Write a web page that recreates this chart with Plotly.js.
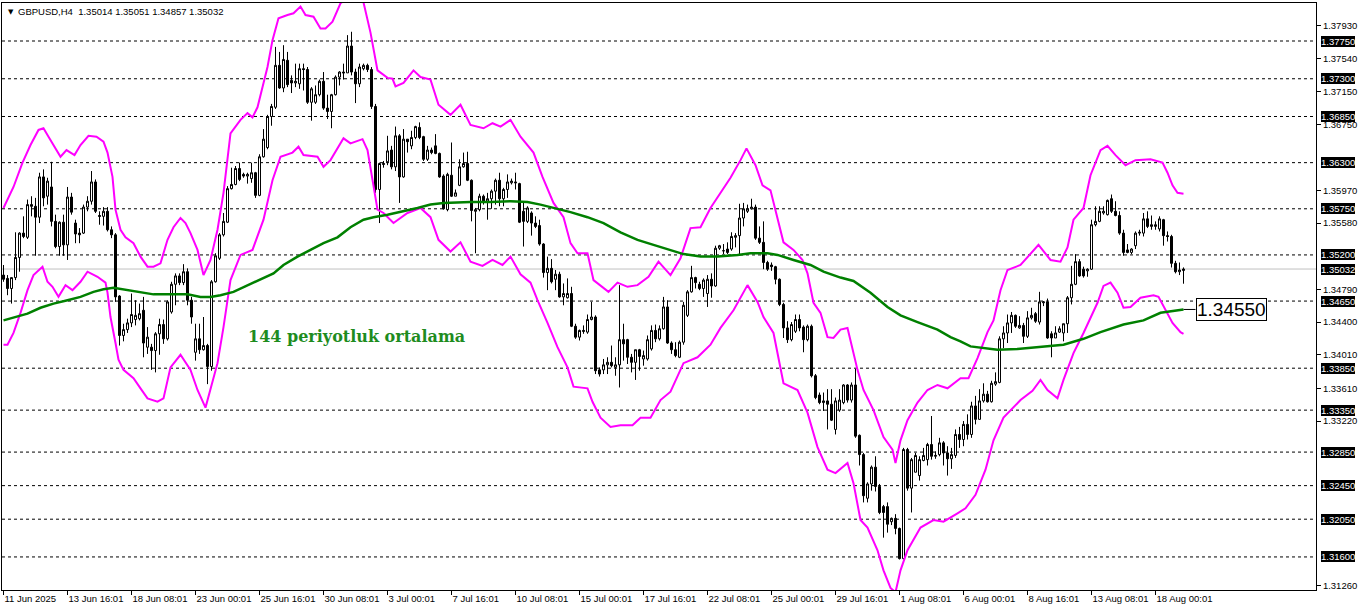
<!DOCTYPE html>
<html><head><meta charset="utf-8">
<script src="https://cdn.plot.ly/plotly-3.0.1.min.js"></script>
<style>html,body{margin:0;padding:0;background:#fff}#chart{width:1362px;height:611px}</style>
</head><body><div id="chart"></div>
<script>
const headerText = "GBPUSD,H4\u00a0\u00a01.35014 1.35051 1.34857 1.35032";
const maCaption = "144 periyotluk ortalama";

const open = [
1.3496,1.3492,1.3480,1.3493,1.3517,1.3546,1.3541,1.3580,1.3578,1.3565,
1.3613,1.3590,1.3601,1.3560,1.3530,1.3559,1.3532,1.3589,1.3558,1.3546,
1.3546,1.3577,1.3584,1.3607,1.3567,1.3566,1.3572,1.3550,1.3544,1.3471,
1.3424,1.3431,1.3439,1.3443,1.3444,1.3454,1.3410,1.3410,1.3406,1.3426,
1.3437,1.3420,1.3452,1.3485,1.3495,1.3487,1.3500,1.3466,1.3404,1.3420,
1.3407,1.3412,1.3387,1.3488,1.3516,1.3544,1.3559,1.3599,1.3604,1.3623,
1.3616,1.3614,1.3611,1.3618,1.3591,1.3637,1.3648,1.3685,1.3696,1.3746,
1.3719,1.3752,1.3728,1.3725,1.3724,1.3742,1.3741,1.3702,1.3702,1.3711,
1.3727,1.3695,1.3691,1.3711,1.3732,1.3738,1.3737,1.3769,1.3738,1.3724,
1.3742,1.3746,1.3741,1.3697,1.3598,1.3629,1.3631,1.3645,1.3625,1.3662,
1.3613,1.3658,1.3650,1.3660,1.3672,1.3661,1.3634,1.3645,1.3650,1.3641,
1.3614,1.3574,1.3615,1.3590,1.3603,1.3625,1.3629,1.3609,1.3572,1.3574,
1.3590,1.3584,1.3587,1.3596,1.3609,1.3587,1.3598,1.3606,1.3607,1.3605,
1.3572,1.3560,1.3570,1.3558,1.3555,1.3533,1.3499,1.3504,1.3491,1.3497,
1.3470,1.3469,1.3474,1.3435,1.3422,1.3430,1.3428,1.3443,1.3446,1.3383,
1.3383,1.3389,1.3392,1.3386,1.3389,1.3419,1.3419,1.3398,1.3392,1.3407,
1.3396,1.3396,1.3408,1.3430,1.3420,1.3432,1.3458,1.3415,1.3407,1.3398,
1.3416,1.3448,1.3476,1.3493,1.3485,1.3480,1.3474,1.3491,1.3483,1.3528,
1.3525,1.3527,1.3527,1.3541,1.3543,1.3564,1.3572,1.3575,1.3577,1.3540,
1.3535,1.3511,1.3508,1.3506,1.3491,1.3461,1.3433,1.3419,1.3429,1.3443,
1.3434,1.3419,1.3435,1.3376,1.3353,1.3344,1.3346,1.3342,1.3312,1.3335,
1.3344,1.3365,1.3347,1.3365,1.3305,1.3282,1.3230,1.3247,1.3267,1.3244,
1.3220,1.3220,1.3202,1.3206,1.3194,1.3158,1.3288,1.3242,1.3261,1.3257,
1.3275,1.3276,1.3294,1.3280,1.3282,1.3296,1.3284,1.3277,1.3281,1.3306,
1.3300,1.3318,1.3306,1.3340,1.3324,1.3346,1.3354,1.3345,1.3366,1.3368,
1.3420,1.3427,1.3439,1.3448,1.3433,1.3436,1.3423,1.3445,1.3450,1.3440,
1.3463,1.3464,1.3426,1.3421,1.3428,1.3427,1.3438,1.3469,1.3485,1.3512,
1.3503,1.3501,1.3503,1.3556,1.3560,1.3570,1.3568,1.3587,1.3572,1.3567,
1.3546,1.3526,1.3523,1.3531,1.3546,1.3546,1.3563,1.3554,1.3554,1.3551,
1.3562,1.3543,1.3542,1.3510,1.3500,1.35014];

const high = [
1.3508,1.3496,1.3493,1.3547,1.3547,1.3566,1.3586,1.3590,1.3588,1.3618,
1.3622,1.3612,1.3631,1.3568,1.3560,1.3568,1.3601,1.3594,1.3562,1.3552,
1.3580,1.3590,1.3620,1.3610,1.3572,1.3577,1.3577,1.3554,1.3546,1.3472,
1.3438,1.3444,1.3474,1.3466,1.3462,1.3470,1.3434,1.3414,1.3428,1.3444,
1.3443,1.3466,1.3488,1.3498,1.3498,1.3509,1.3504,1.3470,1.3438,1.3438,
1.3446,1.3414,1.3490,1.3522,1.3546,1.3570,1.3602,1.3624,1.3626,1.3630,
1.3618,1.3618,1.3630,1.3619,1.3640,1.3670,1.3687,1.3700,1.3768,1.3762,
1.3770,1.3762,1.3734,1.3748,1.3748,1.3748,1.3744,1.3720,1.3722,1.3729,
1.3738,1.3711,1.3712,1.3734,1.3739,1.3748,1.3782,1.3786,1.3742,1.3748,
1.3748,1.3748,1.3744,1.3700,1.3630,1.3632,1.3662,1.3650,1.3673,1.3664,
1.3670,1.3658,1.3668,1.3674,1.3678,1.3662,1.3650,1.3648,1.3664,1.3642,
1.3616,1.3618,1.3654,1.3598,1.3634,1.3642,1.3643,1.3610,1.3576,1.3593,
1.3592,1.3594,1.3598,1.3611,1.3618,1.3600,1.3616,1.3611,1.3618,1.3606,
1.3582,1.3578,1.3572,1.3566,1.3562,1.3534,1.3518,1.3515,1.3502,1.3500,
1.3486,1.3492,1.3482,1.3438,1.3431,1.3436,1.3449,1.3464,1.3448,1.3386,
1.3396,1.3398,1.3412,1.3398,1.3484,1.3438,1.3420,1.3402,1.3407,1.3408,
1.3406,1.3424,1.3436,1.3437,1.3436,1.3470,1.3466,1.3417,1.3416,1.3418,
1.3464,1.3478,1.3507,1.3494,1.3488,1.3492,1.3496,1.3498,1.3531,1.3532,
1.3533,1.3535,1.3547,1.3546,1.3581,1.3582,1.3580,1.3587,1.3580,1.3554,
1.3560,1.3513,1.3511,1.3507,1.3492,1.3463,1.3441,1.3440,1.3449,1.3449,
1.3436,1.3437,1.3437,1.3378,1.3356,1.3356,1.3360,1.3360,1.3350,1.3360,
1.3366,1.3366,1.3368,1.3384,1.3306,1.3284,1.3249,1.3269,1.3280,1.3247,
1.3222,1.3225,1.3207,1.3211,1.3195,1.3290,1.3290,1.3278,1.3284,1.3280,
1.3290,1.3296,1.3328,1.3286,1.3302,1.3298,1.3292,1.3290,1.3312,1.3315,
1.3322,1.3330,1.3345,1.3352,1.3360,1.3367,1.3358,1.3370,1.3380,1.3423,
1.3435,1.3449,1.3452,1.3449,1.3447,1.3439,1.3453,1.3457,1.3452,1.3476,
1.3465,1.3468,1.3429,1.3435,1.3435,1.3438,1.3471,1.3507,1.3521,1.3515,
1.3506,1.3504,1.3562,1.3578,1.3578,1.3578,1.3586,1.3592,1.3584,1.3572,
1.3550,1.3533,1.3528,1.3548,1.3550,1.3570,1.3572,1.3567,1.3560,1.3566,
1.3563,1.3548,1.3544,1.3513,1.3511,1.35051];

const low = [
1.3488,1.3472,1.3462,1.3490,1.3500,1.3540,1.3539,1.3566,1.3519,1.3558,
1.3578,1.3580,1.3554,1.3528,1.3519,1.3519,1.3514,1.3568,1.3534,1.3534,
1.3545,1.3572,1.3580,1.3570,1.3556,1.3555,1.3548,1.3540,1.3464,1.3412,
1.3417,1.3427,1.3434,1.3436,1.3442,1.3398,1.3402,1.3383,1.3380,1.3401,
1.3414,1.3418,1.3450,1.3460,1.3484,1.3484,1.3460,1.3438,1.3394,1.3402,
1.3406,1.3366,1.3382,1.3487,1.3514,1.3542,1.3558,1.3598,1.3603,1.3608,
1.3612,1.3605,1.3606,1.3588,1.3590,1.3636,1.3646,1.3674,1.3694,1.3718,
1.3714,1.3720,1.3713,1.3720,1.3718,1.3716,1.3700,1.3680,1.3700,1.3709,
1.3693,1.3682,1.3671,1.3710,1.3722,1.3729,1.3737,1.3734,1.3701,1.3720,
1.3740,1.3738,1.3694,1.3594,1.3558,1.3624,1.3627,1.3622,1.3620,1.3582,
1.3612,1.3642,1.3646,1.3658,1.3658,1.3632,1.3632,1.3640,1.3640,1.3612,
1.3574,1.3572,1.3589,1.3590,1.3602,1.3624,1.3608,1.3560,1.3522,1.3572,
1.3580,1.3562,1.3575,1.3580,1.3578,1.3578,1.3588,1.3604,1.3598,1.3558,
1.3530,1.3558,1.3543,1.3552,1.3531,1.3493,1.3478,1.3486,1.3478,1.3469,
1.3460,1.3468,1.3434,1.3420,1.3418,1.3426,1.3426,1.3442,1.3378,1.3375,
1.3378,1.3378,1.3386,1.3376,1.3362,1.3394,1.3390,1.3380,1.3371,1.3382,
1.3388,1.3394,1.3406,1.3416,1.3418,1.3431,1.3414,1.3402,1.3398,1.3397,
1.3413,1.3446,1.3475,1.3480,1.3478,1.3470,1.3458,1.3469,1.3482,1.3526,
1.3521,1.3521,1.3525,1.3529,1.3521,1.3554,1.3570,1.3574,1.3538,1.3533,
1.3503,1.3501,1.3501,1.3485,1.3459,1.3421,1.3415,1.3417,1.3427,1.3429,
1.3404,1.3417,1.3374,1.3348,1.3342,1.3334,1.3312,1.3322,1.3306,1.3333,
1.3342,1.3344,1.3344,1.3302,1.3269,1.3225,1.3225,1.3239,1.3238,1.3211,
1.3183,1.3189,1.3198,1.3187,1.3157,1.3157,1.3239,1.3213,1.3261,1.3251,
1.3274,1.3269,1.3276,1.3277,1.3280,1.3269,1.3257,1.3265,1.3278,1.3290,
1.3292,1.3300,1.3302,1.3318,1.3324,1.3344,1.3344,1.3344,1.3364,1.3367,
1.3409,1.3415,1.3427,1.3433,1.3432,1.3415,1.3421,1.3443,1.3439,1.3437,
1.3459,1.3420,1.3398,1.3421,1.3427,1.3417,1.3427,1.3461,1.3484,1.3494,
1.3493,1.3494,1.3502,1.3554,1.3559,1.3568,1.3567,1.3570,1.3566,1.3544,
1.3519,1.3522,1.3521,1.3527,1.3543,1.3542,1.3552,1.3550,1.3550,1.3548,
1.3531,1.3536,1.3505,1.3498,1.3496,1.34857];

const close = [
1.3491,1.3480,1.3493,1.3517,1.3546,1.3542,1.3580,1.3578,1.3565,1.3613,
1.3588,1.3608,1.3560,1.3530,1.3559,1.3532,1.3589,1.3571,1.3545,1.3544,
1.3577,1.3584,1.3607,1.3572,1.3566,1.3572,1.3550,1.3544,1.3470,1.3424,
1.3431,1.3439,1.3449,1.3448,1.3450,1.3415,1.3422,1.3406,1.3426,1.3437,
1.3420,1.3464,1.3485,1.3495,1.3487,1.3500,1.3466,1.3446,1.3420,1.3407,
1.3412,1.3387,1.3488,1.3519,1.3544,1.3560,1.3599,1.3604,1.3623,1.3610,
1.3614,1.3616,1.3618,1.3591,1.3637,1.3658,1.3685,1.3697,1.3746,1.3719,
1.3753,1.3723,1.3725,1.3727,1.3742,1.3741,1.3702,1.3718,1.3711,1.3727,
1.3695,1.3691,1.3711,1.3732,1.3738,1.3737,1.3769,1.3738,1.3724,1.3744,
1.3746,1.3741,1.3697,1.3598,1.3629,1.3628,1.3644,1.3625,1.3662,1.3613,
1.3658,1.3655,1.3660,1.3673,1.3660,1.3634,1.3645,1.3642,1.3641,1.3613,
1.3575,1.3616,1.3590,1.3594,1.3625,1.3629,1.3609,1.3573,1.3574,1.3590,
1.3583,1.3587,1.3596,1.3609,1.3587,1.3598,1.3607,1.3608,1.3606,1.3559,
1.3560,1.3576,1.3558,1.3554,1.3533,1.3499,1.3504,1.3488,1.3497,1.3470,
1.3474,1.3474,1.3435,1.3422,1.3430,1.3429,1.3443,1.3446,1.3382,1.3378,
1.3389,1.3392,1.3388,1.3389,1.3419,1.3414,1.3398,1.3392,1.3407,1.3399,
1.3400,1.3419,1.3430,1.3420,1.3432,1.3458,1.3415,1.3407,1.3400,1.3416,
1.3460,1.3476,1.3493,1.3487,1.3480,1.3490,1.3491,1.3483,1.3528,1.3531,
1.3525,1.3523,1.3542,1.3543,1.3564,1.3575,1.3575,1.3577,1.3540,1.3535,
1.3511,1.3503,1.3506,1.3491,1.3461,1.3433,1.3419,1.3437,1.3443,1.3433,
1.3419,1.3435,1.3376,1.3350,1.3344,1.3346,1.3342,1.3323,1.3346,1.3347,
1.3365,1.3347,1.3365,1.3304,1.3282,1.3233,1.3247,1.3267,1.3244,1.3213,
1.3213,1.3199,1.3206,1.3194,1.3158,1.3288,1.3242,1.3276,1.3281,1.3276,
1.3281,1.3294,1.3280,1.3281,1.3296,1.3284,1.3277,1.3282,1.3306,1.3300,
1.3318,1.3306,1.3340,1.3324,1.3346,1.3354,1.3345,1.3367,1.3369,1.3420,
1.3427,1.3439,1.3448,1.3435,1.3436,1.3423,1.3445,1.3448,1.3441,1.3464,
1.3464,1.3421,1.3421,1.3427,1.3432,1.3438,1.3469,1.3485,1.3512,1.3495,
1.3495,1.3503,1.3556,1.3560,1.3572,1.3572,1.3585,1.3572,1.3567,1.3546,
1.3523,1.3523,1.3527,1.3546,1.3547,1.3563,1.3554,1.3556,1.3556,1.3563,
1.3543,1.3542,1.3510,1.3500,1.3502,1.35032];

// Upper / lower band and 144-period average (x = bar number)
const upperIdx = [0,2.5,4.75,6.75,8.75,10,11.25,13.25,14.25,15.75,17.75,19.25,21.25,23.25,25,26,27.25,28,29.25,30.5,32.5,34.25,36,37.5,39.25,41,42.5,44.25,45.5,46.75,48.5,50,51.75,53.5,55,56.75,59.25,61,62.25,63.5,66,67.25,68.75,71,72.5,74.25,75.5,77.5,79.25,80.5,82.25,84.25,87,89,90,91.75,93.5,96,97.25,98,100,102.5,104.25,106.75,108.75,111.75,114.25,116.75,120,122.25,124.25,126.75,129.25,132.5,134.75,137.5,140,141.75,143.5,146,147.5,151.25,153.5,156,158.5,161.25,163.75,166.75,169.25,171.75,174.25,176.75,179.25,181.75,184.25,185.75,188,189.75,191.75,193.5,195,197.5,199.75,201,202.5,204.25,206,207.5,209.25,211,212.5,213.5,215,217.5,220,222.25,223,224.25,226,228.5,231,233.5,236,239.25,241.25,243.5,246,247.5,249.25,251,254.25,258.75,261.75,264.25,266,267.5,270,271.75,274.25,276,278,280.5,283,286.75,289.75,291,292.25,293.5,295];
const upperVal = [1.3576,1.3601,1.3630,1.3651,1.3669,1.3671,1.3661,1.3645,1.3637,1.3645,1.3639,1.3651,1.3662,1.3661,1.3655,1.3642,1.3613,1.3574,1.3550,1.3541,1.3534,1.3518,1.3506,1.3506,1.3510,1.3538,1.3553,1.3564,1.3558,1.3546,1.3526,1.3496,1.3514,1.3550,1.3594,1.3665,1.3681,1.3689,1.3684,1.3696,1.3744,1.3776,1.3802,1.3806,1.3808,1.3816,1.3806,1.3804,1.3790,1.3790,1.3798,1.3820,1.3830,1.3828,1.3821,1.3785,1.3740,1.3731,1.3730,1.3721,1.3725,1.3740,1.3732,1.3729,1.3699,1.3687,1.3699,1.3675,1.3671,1.3677,1.3673,1.3681,1.3661,1.3642,1.3613,1.3582,1.3565,1.3534,1.3522,1.3522,1.3490,1.3476,1.3487,1.3482,1.3484,1.3494,1.3512,1.3496,1.3516,1.3552,1.3553,1.3576,1.3594,1.3612,1.3633,1.3647,1.3627,1.3603,1.3597,1.3562,1.3535,1.3526,1.3514,1.3498,1.3463,1.3451,1.3422,1.3421,1.3431,1.3433,1.3403,1.3383,1.3359,1.3335,1.3303,1.3288,1.3272,1.3299,1.3323,1.3344,1.3359,1.3365,1.3361,1.3373,1.3373,1.3397,1.3428,1.3442,1.3478,1.3502,1.3508,1.3532,1.3514,1.3512,1.3529,1.3562,1.3576,1.3615,1.3645,1.3650,1.3639,1.3627,1.3633,1.3634,1.3630,1.3618,1.3603,1.3594,1.3593];

const lowerIdx = [0,1,2.5,4.25,6,7.5,9.75,11,12.25,13.75,15.5,17.25,19.25,21,23.5,25.5,26,26.75,28,28.75,30,32.5,34.25,36,38.5,40,41.75,44.25,46.75,48.5,50.5,51.75,53.5,55,56.75,59.25,62.25,65,67.25,69.25,72.25,73.75,75,78.5,80,81.75,83.75,85,86.75,89.75,91,91.75,93.5,95,97.5,101,104.25,106.75,108.75,111.75,114.25,116.75,119.75,122.25,124.75,126.75,129.25,131.75,133.5,136,138.5,141,142.5,146,147.25,149.25,151.75,154.25,157.25,159.25,161.75,164.25,166.75,170,173.5,176.75,179.25,182.5,186,188.5,190,192.5,195,198.5,201,203.5,206,208,211,212.5,214.25,216,218.5,220,221.75,223,224.25,226,229.25,232.5,235,238.5,240.5,243,245.5,247.5,250,254.25,257.25,259.25,261,263.5,265,267.5,270,273.5,275,276.75,278.5,280,281.75,284.25,287.5,288.75,290.5,292.25,294.25,295];
const lowerVal = [1.3413,1.3413,1.3427,1.3451,1.3478,1.3496,1.3506,1.3488,1.3482,1.3470,1.3484,1.3478,1.3488,1.3500,1.3494,1.3487,1.3475,1.3446,1.3415,1.3395,1.3383,1.3373,1.3361,1.3349,1.3345,1.3349,1.3386,1.3401,1.3383,1.3359,1.3338,1.3359,1.3391,1.3434,1.3490,1.3520,1.3526,1.3562,1.3609,1.3637,1.3642,1.3649,1.3639,1.3637,1.3625,1.3633,1.3649,1.3659,1.3653,1.3658,1.3645,1.3625,1.3574,1.3570,1.3558,1.3570,1.3576,1.3565,1.3538,1.3524,1.3535,1.3512,1.3507,1.3514,1.3508,1.3518,1.3497,1.3487,1.3466,1.3439,1.3410,1.3386,1.3363,1.3361,1.3345,1.3326,1.3315,1.3317,1.3317,1.3326,1.3326,1.3347,1.3357,1.3391,1.3398,1.3413,1.3433,1.3454,1.3484,1.3464,1.3446,1.3427,1.3367,1.3359,1.3332,1.3291,1.3264,1.3260,1.3272,1.3248,1.3204,1.3195,1.3168,1.3144,1.3123,1.3118,1.3144,1.3168,1.3195,1.3204,1.3202,1.3212,1.3218,1.3234,1.3264,1.3299,1.3326,1.3347,1.3358,1.3371,1.3359,1.3349,1.3371,1.3403,1.3427,1.3463,1.3483,1.3487,1.3475,1.3457,1.3458,1.3469,1.3472,1.3470,1.3454,1.3439,1.3428,1.3426];

const maIdx = [0,2.5,6,9.25,12.5,16,19.25,22.5,25,27.5,31,34.25,37.5,46,49.25,51.75,54.25,57.5,61,65,67.5,70,73.5,76.75,80,83.5,86.75,90,92.5,96,100,103.5,106.75,110,116.75,121.75,126.75,131,134.25,138.5,141.75,146,150,154.25,158.5,162.5,166.75,170,174.25,178.5,183.5,186.75,191,193.5,197.5,201.75,205,209.25,212.5,216.75,221,224.25,228.5,233.5,236.75,239.25,241.75,248.5,253.5,258.5,265,270,274.25,280,285,289.25,295];
const maVal = [1.3442,1.3445,1.3450,1.3457,1.3462,1.3466,1.3470,1.3476,1.3479,1.3481,1.3478,1.3475,1.3473,1.3473,1.3470,1.3470,1.3472,1.3476,1.3484,1.3493,1.3498,1.3508,1.3518,1.3526,1.3534,1.3541,1.3553,1.3562,1.3565,1.3568,1.3572,1.3576,1.3580,1.3582,1.3583,1.3583,1.3584,1.3583,1.3580,1.3575,1.3571,1.3565,1.3558,1.3547,1.3538,1.3532,1.3526,1.3521,1.3518,1.3518,1.3520,1.3522,1.3522,1.3520,1.3514,1.3508,1.3500,1.3493,1.3489,1.3475,1.3458,1.3448,1.3440,1.3431,1.3422,1.3417,1.3411,1.3407,1.3408,1.3410,1.3413,1.3420,1.3428,1.3437,1.3442,1.3451,1.3455];
const maLabel = 1.34550;

const xTickIdx = [0,16,32,48,64,80,96,112,128,144,160,176,192,208,224,240,256,272,288];
const xTickLabels = ["11 Jun 2025","13 Jun 16:01","18 Jun 08:01","23 Jun 00:01","25 Jun 16:01","30 Jun 08:01","3 Jul 00:01","7 Jul 16:01","10 Jul 08:01","15 Jul 00:01","17 Jul 16:01","22 Jul 08:01","25 Jul 00:01","29 Jul 16:01","1 Aug 08:01","6 Aug 00:01","8 Aug 16:01","13 Aug 08:01","18 Aug 00:01"];
const yTickVals = [1.3793,1.3754,1.3715,1.3675,1.3597,1.3558,1.3479,1.3440,1.3401,1.3361,1.3322,1.3126];
const levels = [1.3775,1.3730,1.3685,1.3630,1.3575,1.3520,1.3465,1.3385,1.3335,1.3285,1.3245,1.3205,1.3160];
const bid = 1.35032;

const FONT = "Liberation Sans, Arial, sans-serif";
const idx = close.map((_, i) => i);
const lastIdx = idx[idx.length - 1];

const traces = [
  {type:'candlestick', x: idx, open: open, high: high, low: low, close: close,
   increasing:{line:{color:'#000', width:1}, fillcolor:'#ffffff'},
   decreasing:{line:{color:'#000', width:1}, fillcolor:'#000000'},
   whiskerwidth:0, hoverinfo:'skip', showlegend:false},
  {type:'scatter', mode:'lines', x: upperIdx, y: upperVal, line:{color:'#ff00ff', width:2}, hoverinfo:'skip', showlegend:false},
  {type:'scatter', mode:'lines', x: lowerIdx, y: lowerVal, line:{color:'#ff00ff', width:2}, hoverinfo:'skip', showlegend:false},
  {type:'scatter', mode:'lines', x: maIdx, y: maVal, line:{color:'#008000', width:2.5}, hoverinfo:'skip', showlegend:false}
];

const shapes = levels.map(v => ({type:'line', xref:'paper', x0:0, x1:1, yref:'y', y0:v, y1:v, layer:'below',
  line:{color:'#000', width:1, dash:'3px,3px'}}));
shapes.push({type:'line', xref:'paper', x0:0, x1:1, yref:'y', y0:bid, y1:bid, layer:'below', line:{color:'#c0c0c0', width:1}});
shapes.push({type:'line', xref:'x', x0:lastIdx, x1:lastIdx+3, yref:'y', y0:maLabel, y1:maLabel, line:{color:'#000', width:1}});

const boxAnn = v => ({xref:'paper', x:1, xanchor:'left', xshift:5, yref:'y', y:v, yanchor:'middle',
  text: v.toFixed(5), showarrow:false, bgcolor:'#000', borderpad:0, borderwidth:0,
  font:{family:FONT, size:9.5, color:'#fff'}});

const annotations = levels.map(boxAnn);
annotations.push(boxAnn(bid));
annotations.push({xref:'paper', x:0, xanchor:'left', xshift:4, yref:'paper', y:1, yanchor:'top', yshift:-3,
  text:'\u25BC', showarrow:false, font:{family:'DejaVu Sans', size:7, color:'#000'}});
annotations.push({xref:'paper', x:0, xanchor:'left', xshift:14, yref:'paper', y:1, yanchor:'top', yshift:-1,
  text: headerText, showarrow:false, font:{family:FONT, size:9.5, color:'#000'}});
annotations.push({xref:'x', x:60.5, xanchor:'left', yref:'y', y:1.3423, yanchor:'middle',
  text: maCaption, showarrow:false, font:{family:'DejaVu Serif, serif', size:16, color:'#1e8c1e', weight:'bold'}});
annotations.push({xref:'x', x:lastIdx+3, xanchor:'left', yref:'y', y:maLabel, yanchor:'middle',
  text: maLabel.toFixed(5), showarrow:false, bgcolor:'#fff', bordercolor:'#000', borderwidth:1, borderpad:0,
  font:{family:FONT, size:19, color:'#000'}});

const layout = {
  width:1362, height:611,
  margin:{l:2, r:46, t:3, b:21, pad:0},
  paper_bgcolor:'#fff', plot_bgcolor:'#fff',
  showlegend:false, dragmode:false,
  boxgap:0.5, boxgroupgap:0,
  xaxis:{type:'linear', range:[-0.375, 328.125], tickmode:'array', tickvals:xTickIdx, ticktext:xTickLabels,
    ticks:'outside', ticklen:4, tickcolor:'#000', tickwidth:1, tickangle:0, ticklabelposition:'outside right',
    showgrid:false, zeroline:false, showline:true, mirror:true, linecolor:'#000', linewidth:1,
    rangeslider:{visible:false}, tickfont:{family:FONT, size:9.5, color:'#000'}, fixedrange:true},
  yaxis:{side:'right', range:[1.31206, 1.38203], tickmode:'array', tickvals:yTickVals,
    ticktext:yTickVals.map(v => v.toFixed(5)), ticks:'outside', ticklen:4, tickcolor:'#000', tickwidth:1,
    showgrid:false, zeroline:false, showline:true, mirror:true, linecolor:'#000', linewidth:1,
    tickfont:{family:FONT, size:9.5, color:'#000'}, fixedrange:true},
  shapes: shapes,
  annotations: annotations
};

Plotly.newPlot('chart', traces, layout, {staticPlot:true, displayModeBar:false});
</script>
</body></html>
